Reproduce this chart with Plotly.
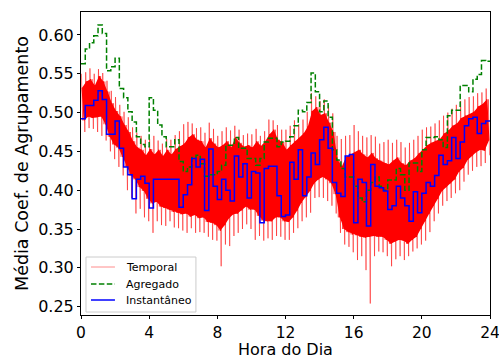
import plotly.graph_objects as go

# 15-minute bins (start hour of each bin)
hours = [i * 0.25 for i in range(96)]

# Agregado (green dashed, step)
agregado = [
    0.563, 0.582, 0.590, 0.599,
    0.613, 0.602, 0.554, 0.559,
    0.570, 0.531, 0.519, 0.501,
    0.488, 0.469, 0.459, 0.456,
    0.519, 0.503, 0.484, 0.469,
    0.456, 0.456, 0.465, 0.437,
    0.424, 0.430, 0.442, 0.445,
    0.434, 0.418, 0.420, 0.420,
    0.424, 0.432, 0.458, 0.458,
    0.468, 0.454, 0.454, 0.441,
    0.441, 0.432, 0.441, 0.462,
    0.467, 0.467, 0.456, 0.462,
    0.463, 0.469, 0.483, 0.503,
    0.501, 0.513, 0.551, 0.527,
    0.501, 0.515, 0.494, 0.452,
    0.439, 0.428, 0.417, 0.417,
    0.405, 0.390, 0.385, 0.400,
    0.410, 0.417, 0.405, 0.400,
    0.413, 0.413, 0.428, 0.420,
    0.400, 0.435, 0.435, 0.424,
    0.452, 0.468, 0.468, 0.469,
    0.465, 0.455, 0.496, 0.503,
    0.503, 0.535, 0.535, 0.527,
    0.543, 0.549, 0.567, 0.566,
]

# Instantaneo (blue, step)
instantaneo = [
    0.492, 0.509, 0.509, 0.516,
    0.528, 0.517, 0.472, 0.472,
    0.489, 0.454, 0.430, 0.420,
    0.389, 0.414, 0.418, 0.409,
    0.377, 0.414, 0.414, 0.414,
    0.414, 0.414, 0.414, 0.378,
    0.394, 0.407, 0.441, 0.430,
    0.440, 0.374, 0.453, 0.405,
    0.388, 0.414, 0.400, 0.386,
    0.444, 0.417, 0.434, 0.390,
    0.424, 0.422, 0.358, 0.428,
    0.431, 0.431, 0.393, 0.366,
    0.368, 0.436, 0.414, 0.452,
    0.393, 0.417, 0.448, 0.433,
    0.465, 0.481, 0.454, 0.410,
    0.396, 0.392, 0.444, 0.446,
    0.358, 0.414, 0.410, 0.354,
    0.433, 0.405, 0.403, 0.399,
    0.375, 0.380, 0.405, 0.390,
    0.380, 0.360, 0.398, 0.371,
    0.396, 0.410, 0.405, 0.419,
    0.445, 0.433, 0.438, 0.468,
    0.441, 0.462, 0.483, 0.492,
    0.494, 0.473, 0.486, 0.489,
]

# Temporal (red, noisy): dense core band and outer spikes per 15-min bin
temporal_core_hi = [
    0.532, 0.540, 0.543, 0.535,
    0.547, 0.540, 0.527, 0.512,
    0.502, 0.495, 0.484, 0.475,
    0.463, 0.455, 0.452, 0.445,
    0.453, 0.446, 0.452, 0.444,
    0.452, 0.446, 0.453, 0.457,
    0.460, 0.468, 0.472, 0.465,
    0.463, 0.455, 0.467, 0.460,
    0.455, 0.458, 0.463, 0.455,
    0.468, 0.461, 0.456, 0.458,
    0.455, 0.463, 0.457, 0.463,
    0.472, 0.478, 0.465, 0.462,
    0.452, 0.458, 0.463, 0.467,
    0.473, 0.482, 0.502, 0.507,
    0.497, 0.499, 0.487, 0.475,
    0.439, 0.431, 0.443, 0.446,
    0.448, 0.452, 0.446, 0.442,
    0.448, 0.441, 0.438, 0.435,
    0.433, 0.438, 0.442, 0.435,
    0.432, 0.438, 0.441, 0.447,
    0.452, 0.458, 0.461, 0.463,
    0.466, 0.473, 0.477, 0.483,
    0.486, 0.493, 0.496, 0.498,
    0.501, 0.508, 0.511, 0.517,
]
temporal_core_lo = [
    0.490, 0.495, 0.493, 0.494,
    0.495, 0.485, 0.469, 0.459,
    0.455, 0.443, 0.430, 0.419,
    0.414, 0.404, 0.399, 0.389,
    0.383, 0.385, 0.379, 0.377,
    0.375, 0.372, 0.371, 0.369,
    0.370, 0.366, 0.368, 0.364,
    0.365, 0.359, 0.358, 0.355,
    0.348, 0.355, 0.364, 0.369,
    0.370, 0.374, 0.379, 0.375,
    0.375, 0.367, 0.361, 0.360,
    0.360, 0.365, 0.365, 0.360,
    0.359, 0.365, 0.374, 0.384,
    0.391, 0.399, 0.409, 0.414,
    0.417, 0.414, 0.409, 0.395,
    0.365, 0.350, 0.346, 0.343,
    0.342, 0.340, 0.339, 0.340,
    0.341, 0.340, 0.340, 0.336,
    0.331, 0.334, 0.336, 0.335,
    0.331, 0.336, 0.340, 0.350,
    0.360, 0.370, 0.380, 0.389,
    0.399, 0.404, 0.409, 0.414,
    0.424, 0.429, 0.439, 0.444,
    0.449, 0.452, 0.451, 0.464,
]
temporal_max = [
    0.550, 0.552, 0.557, 0.550,
    0.556, 0.551, 0.541, 0.528,
    0.520, 0.510, 0.501, 0.494,
    0.481, 0.474, 0.470, 0.465,
    0.466, 0.470, 0.464, 0.460,
    0.466, 0.465, 0.471, 0.476,
    0.485, 0.488, 0.486, 0.480,
    0.481, 0.474, 0.487, 0.479,
    0.470, 0.476, 0.481, 0.477,
    0.483, 0.478, 0.471, 0.473,
    0.472, 0.479, 0.470, 0.476,
    0.491, 0.490, 0.484, 0.478,
    0.478, 0.483, 0.490, 0.485,
    0.491, 0.501, 0.525, 0.521,
    0.515, 0.517, 0.510, 0.499,
    0.470, 0.466, 0.470, 0.471,
    0.484, 0.476, 0.470, 0.468,
    0.471, 0.469, 0.460, 0.462,
    0.465, 0.461, 0.465, 0.462,
    0.455, 0.461, 0.465, 0.470,
    0.478, 0.481, 0.482, 0.486,
    0.490, 0.496, 0.500, 0.505,
    0.510, 0.515, 0.517, 0.520,
    0.521, 0.525, 0.526, 0.531,
]
temporal_min = [
    0.475, 0.480, 0.479, 0.475,
    0.470, 0.464, 0.450, 0.440,
    0.430, 0.419, 0.400, 0.390,
    0.370, 0.376, 0.365, 0.360,
    0.345, 0.360, 0.355, 0.354,
    0.360, 0.352, 0.351, 0.348,
    0.345, 0.351, 0.345, 0.346,
    0.345, 0.340, 0.336, 0.335,
    0.302, 0.330, 0.328, 0.341,
    0.345, 0.350, 0.356, 0.350,
    0.336, 0.341, 0.335, 0.338,
    0.336, 0.341, 0.340, 0.336,
    0.336, 0.345, 0.351, 0.360,
    0.365, 0.371, 0.390, 0.391,
    0.390, 0.386, 0.380, 0.370,
    0.345, 0.330, 0.327, 0.320,
    0.310, 0.315, 0.297, 0.254,
    0.315, 0.321, 0.320, 0.315,
    0.302, 0.311, 0.315, 0.310,
    0.315, 0.321, 0.325, 0.330,
    0.335, 0.346, 0.360, 0.370,
    0.380, 0.386, 0.390, 0.396,
    0.400, 0.411, 0.420, 0.425,
    0.430, 0.431, 0.435, 0.445,
]

x_ticks = [0, 4, 8, 12, 16, 20, 24]
y_ticks = [0.25, 0.30, 0.35, 0.40, 0.45, 0.50, 0.55, 0.60]
legend_labels = ["Temporal", "Agregado", "Instantâneo"]
x_title = "Hora do Dia"
y_title = "Média Coef. de Agrupamento"

BIN = 0.25
RED = "#ff0000"
RED_LIGHT = "rgba(255,0,0,0.5)"
GREEN = "#008000"
BLUE = "#0000ff"

# red spikes: within each bin go max -> core_lo -> core_hi -> min
xs_sp, ys_sp = [], []
for h, mx, clo, chi, mn in zip(hours, temporal_max, temporal_core_lo,
                                temporal_core_hi, temporal_min):
    xs_sp += [h + BIN * 0.1, h + BIN * 0.4, h + BIN * 0.6, h + BIN * 0.9]
    ys_sp += [mx, clo, chi, mn]

# red core band
xs_core, ys_core = [], []
for h, hi, lo in zip(hours, temporal_core_hi, temporal_core_lo):
    xs_core += [h + BIN * 0.25, h + BIN * 0.75]
    ys_core += [hi, lo]
poly_x = [h + BIN * 0.25 for h in hours] + [h + BIN * 0.75 for h in hours][::-1]
poly_y = temporal_core_hi + temporal_core_lo[::-1]

step_x = hours + [24]

fig = go.Figure()
fig.add_trace(go.Scatter(x=poly_x, y=poly_y, mode="lines", fill="toself",
                         fillcolor=RED, line=dict(width=0, color=RED),
                         showlegend=False, hoverinfo="skip"))
fig.add_trace(go.Scatter(x=xs_core, y=ys_core, mode="lines", showlegend=False,
                         line=dict(color=RED, width=1)))
fig.add_trace(go.Scatter(x=xs_sp, y=ys_sp, mode="lines", name=legend_labels[0],
                         showlegend=False, line=dict(color=RED_LIGHT, width=1)))
fig.add_trace(go.Scatter(x=step_x, y=agregado + [agregado[-1]], mode="lines",
                         name=legend_labels[1], line_shape="hv", showlegend=False,
                         line=dict(color=GREEN, width=1.5, dash="5.5px,2.4px")))
fig.add_trace(go.Scatter(x=step_x, y=instantaneo + [instantaneo[-1]], mode="lines",
                         name=legend_labels[2], line_shape="hv", showlegend=False,
                         line=dict(color=BLUE, width=1.5)))

# legend box drawn in axis-domain coordinates (matplotlib style)
shapes = [dict(type="rect", xref="x domain", yref="y domain",
               x0=0.0122, x1=0.281, y0=0.0099, y1=0.1914,
               line=dict(color="#cccccc", width=1),
               fillcolor="rgba(255,255,255,0.8)", layer="above")]
rows_y = [0.1584, 0.1023, 0.0495]
styles = [dict(color="rgba(255,0,0,0.3)", width=1.5),
          dict(color=GREEN, width=1.5, dash="5.5px,2.4px"),
          dict(color=BLUE, width=1.5)]
annotations = []
for label, ry, st in zip(legend_labels, rows_y, styles):
    shapes.append(dict(type="line", xref="x domain", yref="y domain",
                       x0=0.0244, x1=0.083, y0=ry, y1=ry, line=st, layer="above"))
    annotations.append(dict(xref="x domain", yref="y domain", x=0.104, y=ry,
                            text=label, showarrow=False, xanchor="left",
                            yanchor="middle",
                            font=dict(size=11, family="DejaVu Sans", color="black")))

# x-axis title as annotation at the bottom of the figure
annotations.append(dict(xref="paper", yref="paper", x=0.5, y=-0.1485,
                        text=x_title, showarrow=False, xanchor="center",
                        yanchor="bottom", borderpad=0,
                        font=dict(size=16, family="DejaVu Sans", color="black")))

axis_common = dict(showgrid=False, zeroline=False, showline=True, mirror=True,
                   linecolor="black", linewidth=1, ticks="outside", ticklen=3,
                   tickwidth=1, tickcolor="black", automargin=False,
                   ticklabeloverflow="allow")

fig.update_layout(
    width=499, height=360,
    margin=dict(l=81, r=9, t=12, b=45),
    plot_bgcolor="white", paper_bgcolor="white",
    font=dict(family="DejaVu Sans", color="black"),
    xaxis=dict(range=[0, 24], tickvals=x_ticks, ticktext=[str(v) for v in x_ticks],
               tickfont=dict(size=15.5, color="black", family="DejaVu Sans"),
               **axis_common),
    yaxis=dict(range=[0.2392, 0.6296], tickvals=y_ticks,
               ticktext=[f"{v:.2f}" for v in y_ticks],
               tickfont=dict(size=16, color="black", family="DejaVu Sans"),
               title=dict(text=y_title, font=dict(size=17.5), standoff=5),
               **axis_common),
    shapes=shapes,
    annotations=annotations,
    showlegend=False,
)

fig.write_html("out.html")
